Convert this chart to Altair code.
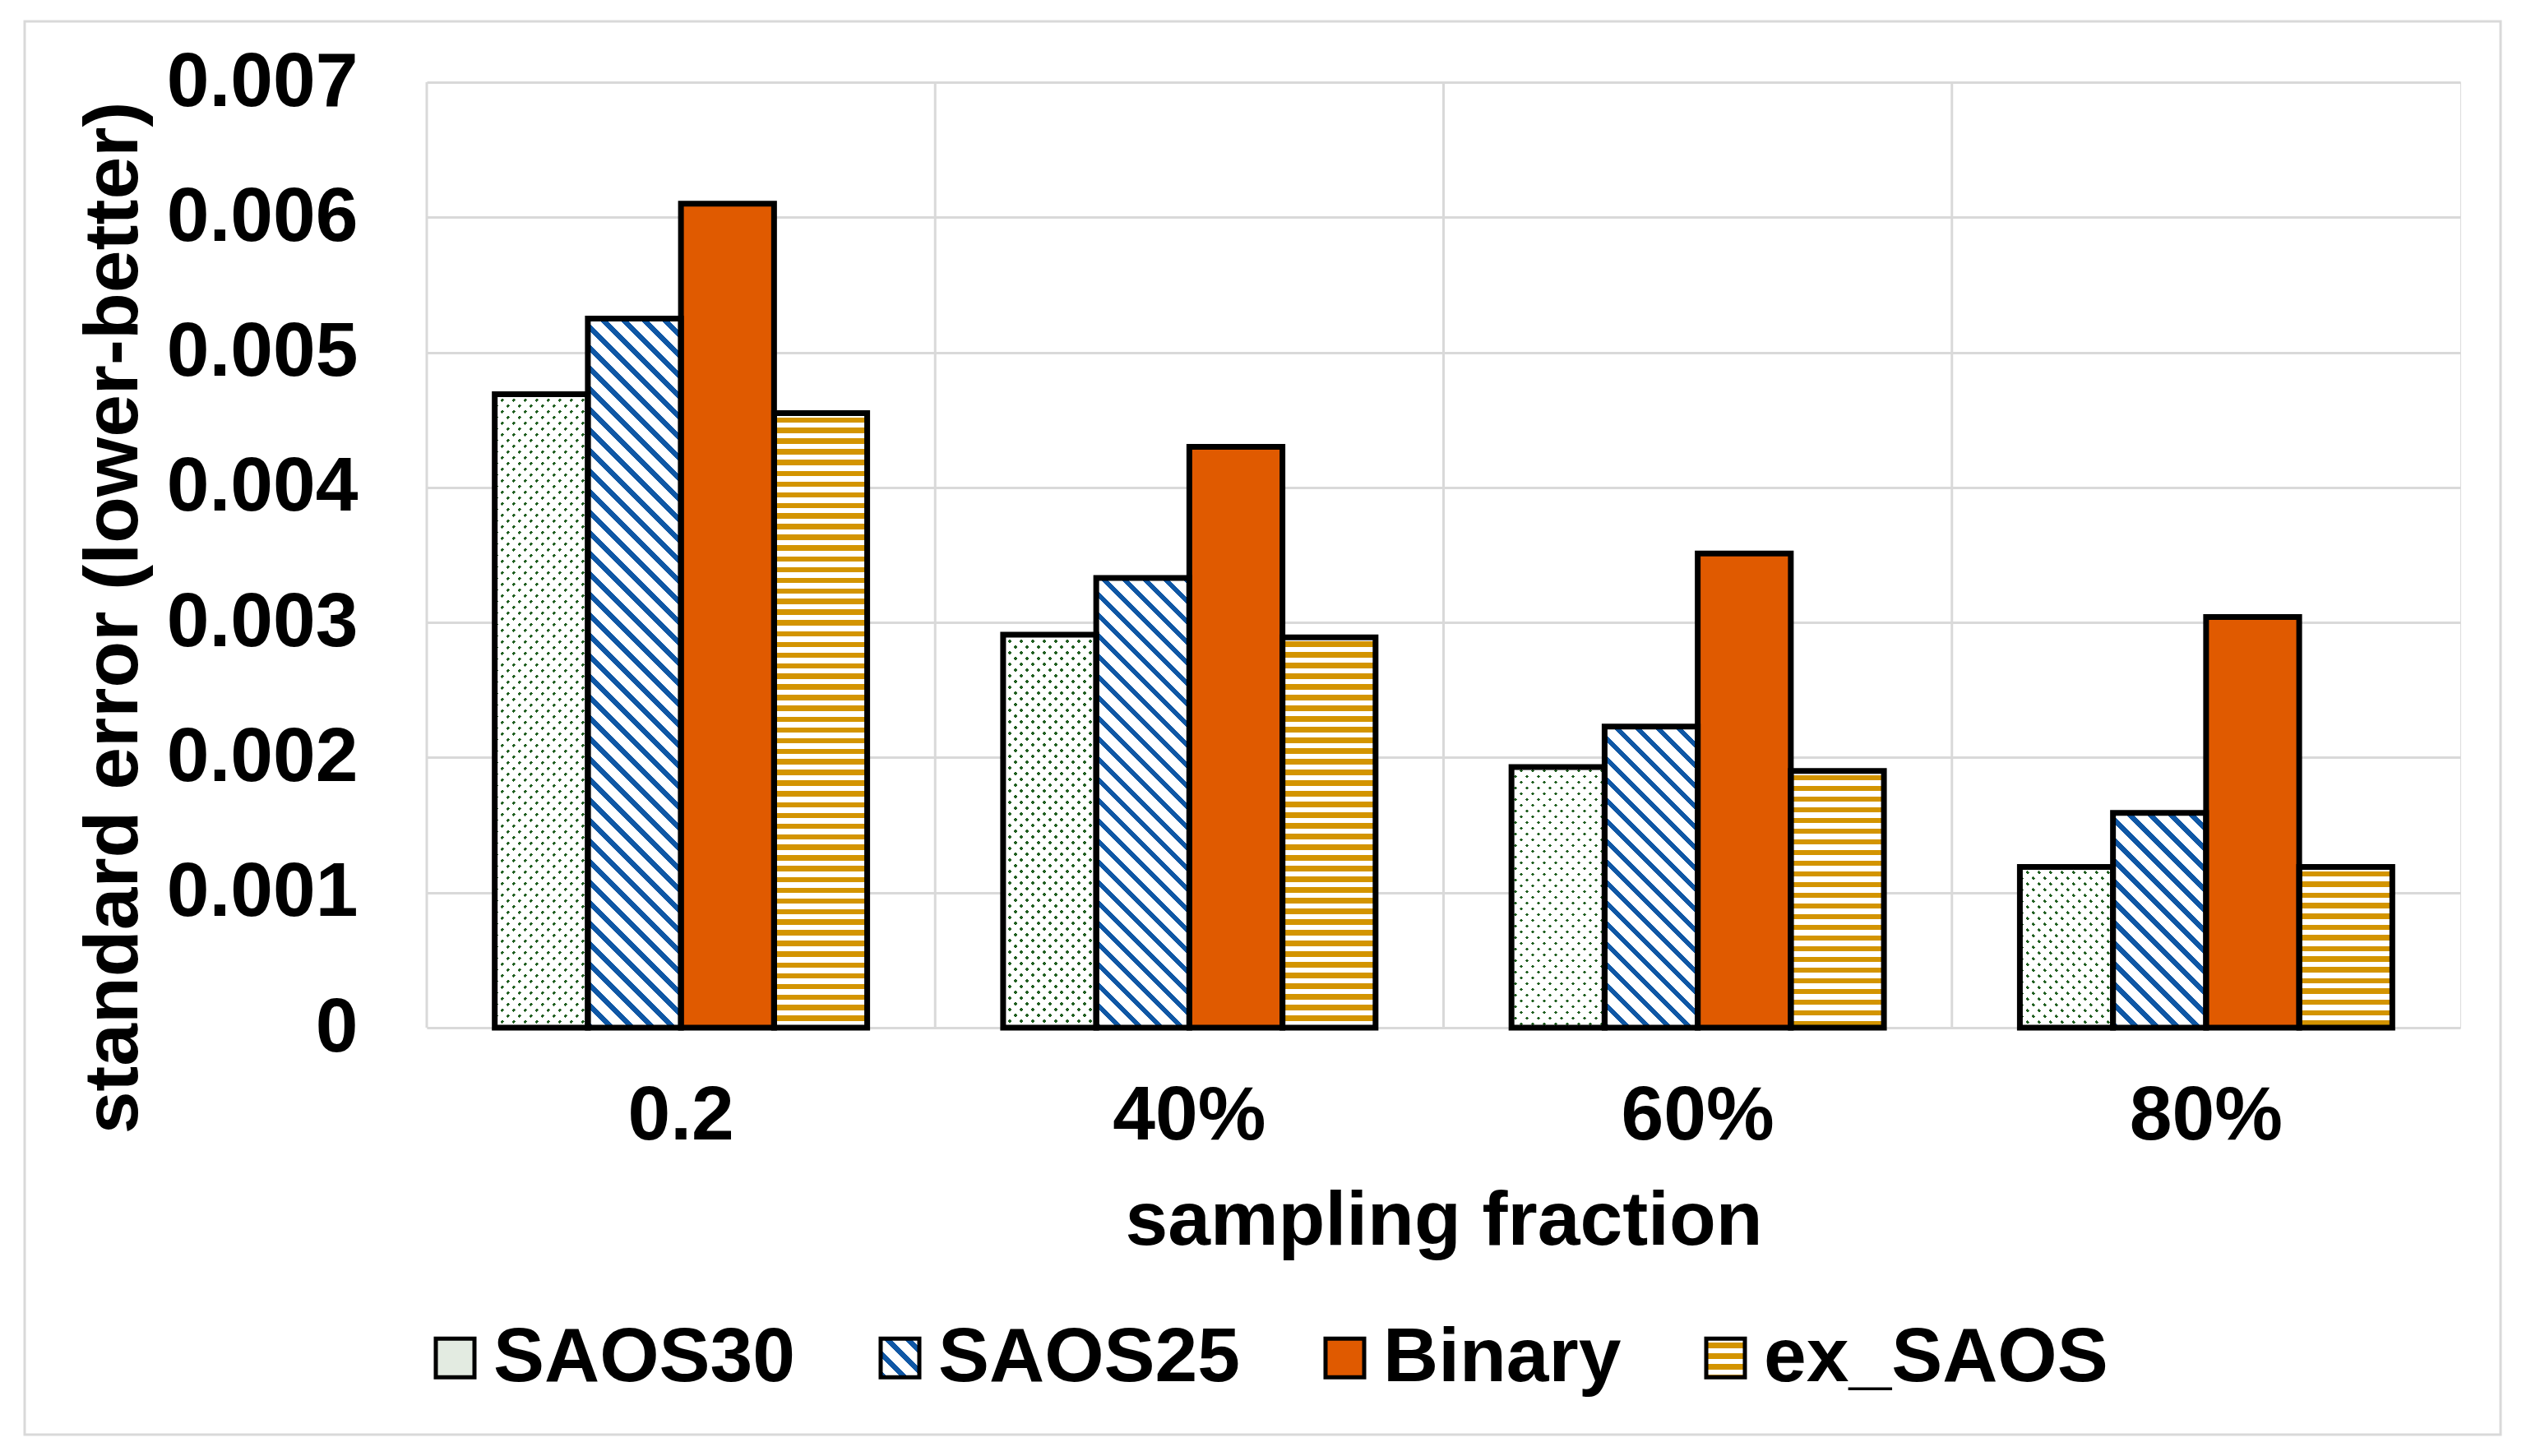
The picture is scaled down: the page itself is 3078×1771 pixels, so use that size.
import json
import math
import altair as alt
import pandas as pd

# ---------------- data ----------------
categories = ["0.2", "40%", "60%", "80%"]
series_names = ["SAOS30", "SAOS25", "Binary", "ex_SAOS"]
saos30 = [0.00469, 0.00291, 0.00193, 0.00119]
saos25 = [0.00525, 0.00333, 0.00223, 0.00159]
binary = [0.00610, 0.00430, 0.00351, 0.00304]
ex_saos = [0.00455, 0.00289, 0.00190, 0.00119]
y_ticks = [0, 0.001, 0.002, 0.003, 0.004, 0.005, 0.006, 0.007]

series_values = {"SAOS30": saos30, "SAOS25": saos25, "Binary": binary, "ex_SAOS": ex_saos}
rows = [{"cat": c, "series": s, "value": series_values[s][i]}
        for s in series_names for i, c in enumerate(categories)]
df = pd.DataFrame(rows)
cat_df = pd.DataFrame({"cat": categories})

# ---------------- layout / style ----------------
W, H = 2473, 1150
YMAX = 0.007
PAD_OUTER = 0.73
BAR_W = (W / len(categories)) / (len(series_names) + 2 * PAD_OUTER)

ORANGE = "#E05A00"
BLUE = "#0F57A5"
GOLD = "#D39400"
GREEN = "#1F5E1F"
WHITE = "#ffffff"
CLEAR = "rgba(255,255,255,0)"
GRID = "#d9d9d9"
TINT30 = "#e3ebe1"
FONT = "Liberation Sans"
FS = 93


def stripe_stops(total, period, thick, phase, on, off):
    stops = []
    a = (phase % period) - period
    while a < total:
        a0 = max(a, 0.0)
        b0 = min(a + thick, total)
        if b0 > a0:
            o0 = round(a0 / total, 5)
            o1 = round(b0 / total, 5)
            stops += [{"offset": o0, "color": off}, {"offset": o0, "color": on},
                      {"offset": o1, "color": on}, {"offset": o1, "color": off}]
        a += period
    if not stops:
        stops = [{"offset": 0, "color": off}, {"offset": 1, "color": off}]
    return stops


def grad_diag_down(w, h, period, thick, on, off):
    # lines running top-left -> bottom-right ("\")
    L = w + h
    c = w * L / (w * w + h * h)
    return {"gradient": "linear", "x1": 0, "y1": 1, "x2": round(c, 6), "y2": round(1 - c * h / w, 6),
            "stops": stripe_stops(L, period, thick, 0, on, off)}


def grad_diag_up(w, h, period, thick, on, off):
    # lines running bottom-left -> top-right ("/")
    L = w + h
    c = w * L / (w * w + h * h)
    return {"gradient": "linear", "x1": 0, "y1": 0, "x2": round(c, 6), "y2": round(c * h / w, 6),
            "stops": stripe_stops(L, period, thick, 0, on, off)}


def grad_horizontal(h, period, thick, phase, on, off):
    return {"gradient": "linear", "x1": 0, "y1": 0, "x2": 0, "y2": 1,
            "stops": stripe_stops(h, period, thick, phase, on, off)}


def bar_h(v):
    return v / YMAX * H


# ---------------- encodings ----------------
x_axis = alt.Axis(
    labelFontSize=FS, labelFont=FONT, labelFontWeight="bold", labelColor="black",
    labelBaseline="middle", labelPadding=107, labelAngle=0, labelLimit=1000,
    ticks=False, tickSize=0, domain=False, grid=False,
    title="sampling fraction", titleFontSize=FS, titleFont=FONT, titleFontWeight="bold",
    titleColor="black", titleBaseline="alphabetic", titleAlign="center",
    titleX=W / 2, titleY=263, titleLimit=3000,
)
y_axis = alt.Axis(
    values=y_ticks, format=".3~f",
    labelFontSize=FS, labelFont=FONT, labelFontWeight="bold", labelColor="black",
    labelPadding=84, labelLimit=1000, ticks=False, tickSize=0, domain=False,
    grid=True, gridColor=GRID, gridWidth=3,
    title="standard error (lower-better)", titleFontSize=FS, titleFont=FONT,
    titleFontWeight="bold", titleColor="black", titleAngle=270, titleAlign="center",
    titleBaseline="alphabetic", titleX=-353, titleY=651, titleLimit=3000,
)

x_scale = alt.Scale(domain=categories, paddingInner=0, paddingOuter=0)
x_enc = alt.X("cat:N", sort=categories, scale=x_scale, axis=x_axis)
xo_enc = alt.XOffset("series:N", sort=series_names,
                     scale=alt.Scale(domain=series_names, paddingInner=0, paddingOuter=PAD_OUTER))
y_enc = alt.Y("value:Q", scale=alt.Scale(domain=[0, YMAX], nice=False, zero=True), axis=y_axis)


def fill_layer(name, fills, default):
    cond = [{"test": "datum.cat === '%s'" % c, "value": g} for c, g in fills]
    return (alt.Chart(df)
            .transform_filter(alt.datum.series == name)
            .mark_bar(strokeWidth=0)
            .encode(x=x_enc, xOffset=xo_enc, y=y_enc,
                    fill={"condition": cond, "value": default}))


# gradients per bar (stripe spacing kept constant in pixels)
g25 = [(c, grad_diag_down(BAR_W, bar_h(v), 25, 8.5, BLUE, WHITE)) for c, v in zip(categories, saos25)]
gex = [(c, grad_horizontal(bar_h(v), 13, 6.5, 5, GOLD, WHITE)) for c, v in zip(categories, ex_saos)]
g30a = [(c, grad_diag_down(BAR_W, bar_h(v), 14, 4.5, GREEN, WHITE)) for c, v in zip(categories, saos30)]
g30b = [(c, grad_diag_up(BAR_W, bar_h(v), 14, 4.5, CLEAR, WHITE)) for c, v in zip(categories, saos30)]

# legend symbol fills (47px squares), given to the color scale as expressions
SYM = 47
leg25 = grad_diag_down(SYM, SYM, 25, 8.5, BLUE, WHITE)
legex = grad_horizontal(SYM, 13, 6.5, 5, GOLD, WHITE)
legend_range = [TINT30,
                {"expr": "(" + json.dumps(leg25) + ")"},
                ORANGE,
                {"expr": "(" + json.dumps(legex) + ")"}]

legend = alt.Legend(
    orient="none", legendX=-12, legendY=1505, direction="horizontal", title=None,
    symbolType="square", symbolSize=SYM * SYM, symbolStrokeWidth=5, symbolStrokeColor="black",
    symbolOpacity=1,
    labelFontSize=FS, labelFont=FONT, labelFontWeight="bold", labelColor="black",
    labelOffset=0, columnPadding=80, labelLimit=3000, padding=0,
)

# ---------------- layers ----------------
frame = (alt.Chart(pd.DataFrame({"a": [0]}))
         .mark_rect(filled=False, stroke=GRID, strokeWidth=3)
         .encode(x=alt.value(-489), x2=alt.value(2522), y=alt.value(-74), y2=alt.value(1645)))

vgrid = (alt.Chart(cat_df)
         .mark_rule(color=GRID, strokeWidth=3)
         .encode(x=alt.X("cat:N", sort=categories, scale=x_scale, axis=x_axis, bandPosition=0)))

layer30a = fill_layer("SAOS30", g30a, WHITE)
layer30b = fill_layer("SAOS30", g30b, WHITE)
layer25 = fill_layer("SAOS25", g25, WHITE)
layerex = fill_layer("ex_SAOS", gex, WHITE)
layerbin = (alt.Chart(df)
            .transform_filter(alt.datum.series == "Binary")
            .mark_bar(fill=ORANGE, strokeWidth=0)
            .encode(x=x_enc, xOffset=xo_enc, y=y_enc))

outline = (alt.Chart(df)
           .mark_bar(fillOpacity=0, stroke="black", strokeWidth=7)
           .encode(x=x_enc, xOffset=xo_enc, y=y_enc,
                   color=alt.Color("series:N", sort=series_names,
                                   scale=alt.Scale(domain=series_names, range=legend_range),
                                   legend=legend)))

chart = (alt.layer(frame, vgrid, layer30a, layer30b, layer25, layerex, layerbin, outline)
         .properties(width=W, height=H,
                     autosize=alt.AutoSizeParams(type="none"),
                     padding={"left": 511, "top": 92, "right": 60, "bottom": 500},
                     background="white")
         .configure_view(stroke=GRID, strokeWidth=3)
         .configure(font=FONT))

chart.save("out.html", embed_options={"renderer": "svg", "actions": False})
